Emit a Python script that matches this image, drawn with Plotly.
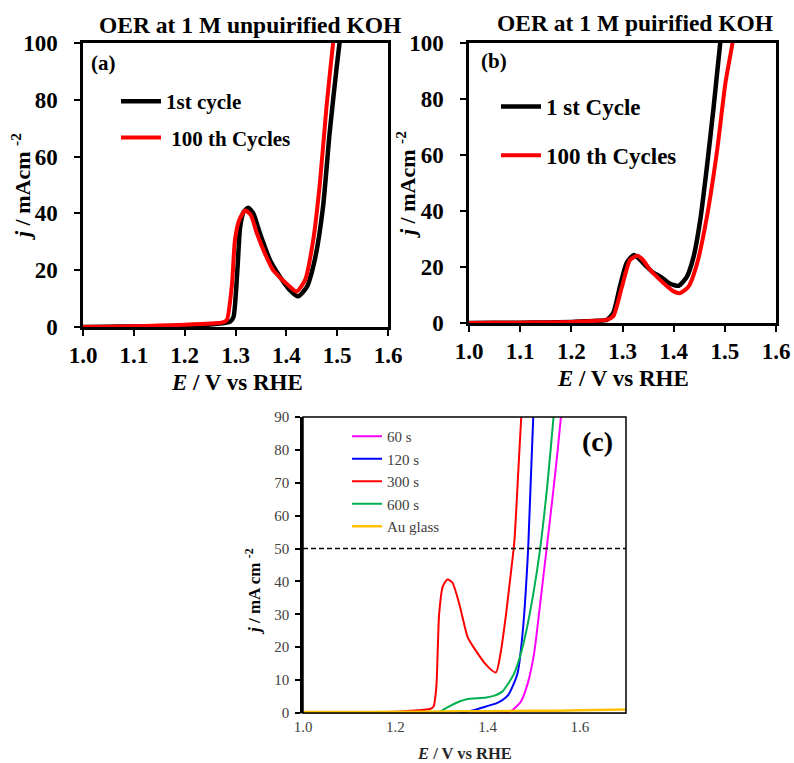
import plotly.graph_objects as go

# ---------------- data ----------------
# Panel (a): OER at 1 M unpurified KOH
E_a_first = [1.00, 1.05, 1.10, 1.15, 1.20, 1.25, 1.28, 1.29, 1.296, 1.304, 1.309, 1.316, 1.325, 1.335,
             1.348, 1.368, 1.387, 1.407, 1.423, 1.44, 1.456, 1.472, 1.485, 1.499, 1.51]
j_a_first = [0.0, 0.1, 0.2, 0.3, 0.5, 0.9, 1.5, 2.0, 3.5, 21, 35, 40.5, 42, 40,
             33, 23.5, 17.8, 13, 10.8, 14, 23.7, 42, 68, 91.5, 108]
E_a_100 = [1.00, 1.05, 1.10, 1.15, 1.20, 1.25, 1.275, 1.283, 1.293, 1.299, 1.308, 1.319, 1.33, 1.342,
           1.36, 1.374, 1.39, 1.405, 1.42, 1.437, 1.453, 1.466, 1.479, 1.492, 1.50]
j_a_100 = [0.0, 0.1, 0.3, 0.5, 0.8, 1.2, 1.6, 2.5, 15, 30.7, 38, 41, 39.5, 33,
           25, 20, 17, 14.5, 12.5, 16.6, 30.7, 50.6, 77.5, 100, 112]

# Panel (b): OER at 1 M purified KOH
E_b_first = [1.00, 1.05, 1.10, 1.15, 1.20, 1.25, 1.27, 1.282, 1.295, 1.308, 1.322, 1.335, 1.348, 1.36,
             1.374, 1.393, 1.41, 1.426, 1.439, 1.452, 1.465, 1.478, 1.491, 1.50]
j_b_first = [0, 0.05, 0.1, 0.2, 0.4, 0.8, 1.2, 3.6, 13, 21.4, 24.3, 22.5, 20, 18,
             16.6, 14, 13.3, 16.6, 23.7, 36.8, 55.8, 77, 100, 113]
E_b_100 = [1.00, 1.05, 1.10, 1.15, 1.20, 1.25, 1.27, 1.282, 1.299, 1.315, 1.329, 1.34, 1.354, 1.38,
           1.40, 1.413, 1.429, 1.446, 1.465, 1.485, 1.501, 1.515, 1.525]
j_b_100 = [0, 0.05, 0.1, 0.2, 0.4, 0.8, 1.2, 2.4, 13, 22.6, 24, 22.5, 19, 14.3,
           11.3, 10.7, 13, 21.4, 38, 61.8, 85.5, 100, 112]

# Panel (c): deposition time series
E_60 = [1.34, 1.40, 1.44, 1.454, 1.472, 1.487, 1.501, 1.515, 1.528, 1.542, 1.552, 1.559, 1.565]
j_60 = [-0.2, -0.2, 0.1, 0.9, 3.4, 9, 18.3, 34.5, 50, 67, 80, 90, 98]
E_120 = [1.33, 1.36, 1.397, 1.42, 1.432, 1.445, 1.454, 1.465, 1.476, 1.488, 1.499, 1.505]
j_120 = [-0.3, 0.5, 2, 3, 3.9, 5.5, 8, 12.1, 24.4, 50, 90, 100]
E_300 = [1.00, 1.10, 1.20, 1.25, 1.275, 1.283, 1.289, 1.295, 1.303, 1.313, 1.324, 1.339, 1.357, 1.372,
         1.396, 1.418, 1.428, 1.440, 1.450, 1.458, 1.466, 1.473, 1.478]
j_300 = [0.3, 0.3, 0.4, 0.8, 1.2, 2, 8, 30, 38.5, 40.6, 39.6, 33, 23, 19.5,
         14.8, 12.3, 18, 30, 42, 52, 72, 90, 100]
E_600 = [1.29, 1.31, 1.339, 1.355, 1.397, 1.415, 1.432, 1.445, 1.458, 1.47, 1.483, 1.50, 1.514, 1.53, 1.543, 1.55]
j_600 = [-0.3, 1.5, 3.5, 4.2, 4.7, 5.3, 6.5, 9, 12.1, 17, 24.3, 37, 50, 70, 90, 100]
E_au = [1.0, 1.1, 1.2, 1.3, 1.4, 1.5, 1.6, 1.7]
j_au = [0.3, 0.3, 0.35, 0.45, 0.55, 0.65, 0.8, 1.1]

x_ticks_ab = [1.0, 1.1, 1.2, 1.3, 1.4, 1.5, 1.6]
y_ticks_ab = [0, 20, 40, 60, 80, 100]
x_ticks_c = [1.0, 1.2, 1.4, 1.6]
y_ticks_c = [0, 10, 20, 30, 40, 50, 60, 70, 80, 90]
ref_line_c = 50

SERIF = "Liberation Serif, Times New Roman, serif"
W, H = 794, 763


def px(x):
    return x / W


def py(y):
    return 1 - y / H


fig = go.Figure()

# panel (a)
fig.add_trace(go.Scatter(x=E_a_first, y=j_a_first, mode="lines", name="1st cycle",
                         line=dict(color="#000000", width=4.5, shape="spline", smoothing=0.6),
                         xaxis="x", yaxis="y", legend="legend", legendgroup="a1"))
fig.add_trace(go.Scatter(x=E_a_100, y=j_a_100, mode="lines", name=" 100 th Cycles",
                         line=dict(color="#FF0000", width=4, shape="spline", smoothing=0.6),
                         xaxis="x", yaxis="y", legend="legend", legendgroup="a2"))
# panel (b)
fig.add_trace(go.Scatter(x=E_b_first, y=j_b_first, mode="lines", name="1 st Cycle",
                         line=dict(color="#000000", width=4.5, shape="spline", smoothing=0.6),
                         xaxis="x2", yaxis="y2", legend="legend2", legendgroup="b1"))
fig.add_trace(go.Scatter(x=E_b_100, y=j_b_100, mode="lines", name="100 th Cycles",
                         line=dict(color="#FF0000", width=4, shape="spline", smoothing=0.6),
                         xaxis="x2", yaxis="y2", legend="legend2", legendgroup="b2"))
# panel (c)
series_c = [("60 s", E_60, j_60, "#FF00FF", 2),
            ("120 s", E_120, j_120, "#0000FF", 2),
            ("300 s", E_300, j_300, "#FF0000", 2),
            ("600 s", E_600, j_600, "#00B050", 2),
            ("Au glass", E_au, j_au, "#FFC000", 2.5)]
for name, xs, ys, col, wd in series_c:
    fig.add_trace(go.Scatter(x=xs, y=ys, mode="lines", name=name,
                             line=dict(color=col, width=wd, shape="spline", smoothing=0.6),
                             xaxis="x3", yaxis="y3", legend="legend3"))

bold_tick = dict(family=SERIF, size=23, color="#000000", weight="bold")
ab_axis = dict(showline=True, linecolor="#000000", linewidth=2.5, mirror=True,
               ticks="outside", ticklen=6, tickwidth=2, tickcolor="#000000",
               showgrid=False, zeroline=False, tickfont=bold_tick, automargin=False)

fig.update_layout(
    width=W, height=H, margin=dict(l=0, r=0, t=0, b=0, autoexpand=False),
    paper_bgcolor="white", plot_bgcolor="white",
    xaxis=dict(domain=[px(83), px(388)], range=[1.0, 1.6], tickvals=x_ticks_ab,
               ticktext=[f"{v:.1f}" for v in x_ticks_ab], anchor="y", **ab_axis),
    yaxis=dict(domain=[py(327), py(43)], range=[0, 100], tickvals=y_ticks_ab, anchor="x",
               ticklabelstandoff=12, **ab_axis),
    xaxis2=dict(domain=[px(469), px(776)], range=[1.0, 1.6], tickvals=x_ticks_ab,
                ticktext=[f"{v:.1f}" for v in x_ticks_ab], anchor="y2", **ab_axis),
    yaxis2=dict(domain=[py(323), py(43)], range=[0, 100], tickvals=y_ticks_ab, anchor="x2",
                ticklabelstandoff=12, **ab_axis),
    xaxis3=dict(domain=[px(303), px(626)], range=[1.0, 1.7], tickvals=x_ticks_c,
                ticktext=[f"{v:.1f}" for v in x_ticks_c], anchor="y3",
                showline=True, linecolor="#9a9a9a", linewidth=1, ticks="",
                showgrid=False, zeroline=False, automargin=False,
                tickfont=dict(family=SERIF, size=15, color="#404040")),
    yaxis3=dict(domain=[py(713), py(417)], range=[0, 90], tickvals=y_ticks_c, anchor="x3",
                showline=True, linecolor="#000000", linewidth=2.5, ticks="outside",
                ticklen=5, tickwidth=1.5, tickcolor="#000000", showgrid=False, zeroline=False,
                ticklabelstandoff=3, automargin=False,
                tickfont=dict(family=SERIF, size=15, color="#404040")),
    showlegend=True,
    legend=dict(x=px(116), y=py(81), xanchor="left", yanchor="top", bgcolor="rgba(0,0,0,0)",
                font=dict(family=SERIF, size=21, color="#000000", weight="bold"),
                itemwidth=40, tracegroupgap=6),
    legend2=dict(x=px(496), y=py(85), xanchor="left", yanchor="top", bgcolor="rgba(0,0,0,0)",
                 font=dict(family=SERIF, size=23, color="#000000", weight="bold"),
                 itemwidth=40, tracegroupgap=16),
    legend3=dict(x=px(347), y=py(420), xanchor="left", yanchor="top", bgcolor="rgba(0,0,0,0)",
                 font=dict(family=SERIF, size=15, color="#404040"),
                 itemwidth=30, tracegroupgap=0),
)

# panel (c) border (thin top/right) and 50 mA line
fig.add_shape(type="rect", xref="x3 domain", yref="y3 domain", x0=0, x1=1, y0=0, y1=1,
              line=dict(color="#000000", width=1.5), layer="above")
fig.add_shape(type="line", xref="x3 domain", yref="y3", x0=0, x1=1, y0=ref_line_c, y1=ref_line_c,
              line=dict(color="#000000", width=1.5, dash="5px,3px"))

annots = [
    dict(text="<b>OER at 1 M unpuirified KOH</b>", x=px(250), y=py(25), size=23.5),
    dict(text="<b>OER at 1 M puirified KOH</b>", x=px(635), y=py(23), size=23.5),
    dict(text="<b>(a)</b>", x=px(103), y=py(63), size=21),
    dict(text="<b>(b)</b>", x=px(494), y=py(61), size=21),
    dict(text="<b>(c)</b>", x=px(597), y=py(441), size=28),
    dict(text="<b><i>E</i> / V vs RHE</b>", x=px(237), y=py(382), size=23),
    dict(text="<b><i>E</i> / V vs RHE</b>", x=px(623), y=py(378), size=23),
    dict(text="<b><i>E</i> / V vs RHE</b>", x=px(464), y=py(753), size=16.5, color="#262626"),
]
for a in annots:
    fig.add_annotation(text=a["text"], x=a["x"], y=a["y"], xref="paper", yref="paper",
                       showarrow=False, xanchor="center", yanchor="middle",
                       font=dict(family=SERIF, size=a["size"], color=a.get("color", "#000000")))

ytitles = [
    dict(text="<b><i>j</i> / mAcm <sup>-2</sup></b>", x=px(21), y=py(187), size=22),
    dict(text="<b><i>j</i> / mAcm <sup>-2</sup></b>", x=px(406), y=py(185), size=22),
    dict(text="<b><i>j</i> / mA cm <sup>-2</sup></b>", x=px(253), y=py(592), size=17),
]
for a in ytitles:
    fig.add_annotation(text=a["text"], x=a["x"], y=a["y"], xref="paper", yref="paper",
                       showarrow=False, textangle=-90, xanchor="center", yanchor="middle",
                       font=dict(family=SERIF, size=a["size"], color="#000000"))

fig.write_html("out.html")
